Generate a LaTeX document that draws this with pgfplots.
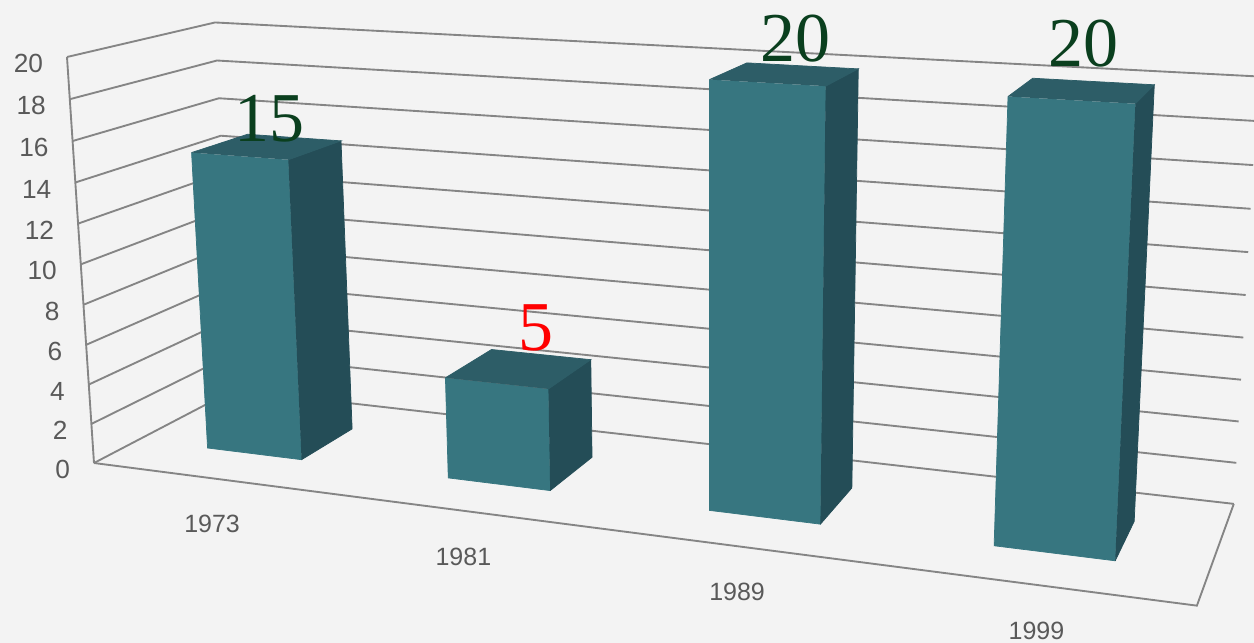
\documentclass[border=0pt]{standalone}
\usepackage{fontspec}
\setmainfont{Liberation Sans}
\newfontfamily\seriffont{Liberation Serif}
\usepackage{pgfplots}
\pgfplotsset{compat=1.18}
\definecolor{bgc}{HTML}{F3F3F3}
\definecolor{gridc}{HTML}{858585}
\definecolor{cfront}{HTML}{377680}
\definecolor{cside}{HTML}{244D57}
\definecolor{ctop}{HTML}{2D5D67}
\definecolor{ctick}{HTML}{595959}
\definecolor{cgreen}{HTML}{0A3F1E}
\pgfplotsset{
  table/proj/.style={
    /pgfplots/table/x expr={proju(\thisrow{X},\thisrow{D},\thisrow{Z})},
    /pgfplots/table/y expr={projv(\thisrow{X},\thisrow{D},\thisrow{Z})},
  },
  gridline/.style={draw=gridc, line width=0.75pt},
}
% one bar: #1 = category index, #2 = value
\newcommand\drawbar[2]{%
  \addplot[fill=cfront, draw=cfront, line width=0.3pt] table[proj, row sep=\\] {X D Z\\ #1-0.2 0.3 #2\\ #1-0.2 0.3 0\\ #1+0.2 0.3 0\\ #1+0.2 0.3 #2\\};
  \addplot[fill=cside, draw=cside, line width=0.3pt] table[proj, row sep=\\] {X D Z\\ #1+0.2 0.3 0\\ #1+0.2 0.7 0\\ #1+0.2 0.7 #2\\ #1+0.2 0.3 #2\\};
  \addplot[fill=ctop, draw=ctop, line width=0.3pt] table[proj, row sep=\\] {X D Z\\ #1+0.2 0.3 #2\\ #1+0.2 0.7 #2\\ #1-0.2 0.7 #2\\ #1-0.2 0.3 #2\\};
}
\begin{document}
\begin{tikzpicture}
\begin{axis}[
  width=501.6pt, height=257.2pt, scale only axis,
  xmin=0, xmax=1254, ymin=0, ymax=643, y dir=reverse,
  axis lines=none, xtick=\empty, ytick=\empty,
  axis background/.style={fill=bgc},
  clip=true,
  declare function={
    projw(\xa,\xb,\xc)=1-0.040175*(\xa+0.5)+0.1087*\xb-0.0021*\xc;
    proju(\xa,\xb,\xc)=(94+227.63*(\xa+0.5)+165.22*\xb-1.491*\xc)/projw(\xa,\xb,\xc);
    projv(\xa,\xb,\xc)=(463+11.329*(\xa+0.5)-30.653*\xb-20.42*\xc)/projw(\xa,\xb,\xc);
  },
]
% side wall and back wall gridlines
\pgfplotsinvokeforeach{0,2,4,6,8,10,12,14,16,18,20}{
  \addplot[gridline] table[proj, row sep=\\] {X D Z\\ -0.5 0 #1\\ -0.5 1 #1\\ 3.5 1 #1\\};
}
% front edge of side wall
\addplot[gridline] table[proj, row sep=\\] {X D Z\\ -0.5 0 0\\ -0.5 0 20\\};
% floor
\addplot[gridline] table[proj, row sep=\\] {X D Z\\ -0.5 0 0\\ 3.5 0 0\\ 3.5 1 0\\};
% bars
\drawbar{0}{15}
\drawbar{1}{5}
\drawbar{2}{20}
\drawbar{3}{20}
% value axis labels
\addplot[draw=none, point meta=explicit symbolic, nodes near coords,
  every node near coord/.append style={font=\fontsize{10.5}{12}\selectfont, text=ctick, anchor=east, inner sep=0pt, xshift=-9.4pt, yshift=-2.6pt}]
  table[proj, meta=L, row sep=\\] {X D Z L\\ -0.5 0 0 0\\ -0.5 0 2 2\\ -0.5 0 4 4\\ -0.5 0 6 6\\ -0.5 0 8 8\\ -0.5 0 10 10\\ -0.5 0 12 12\\ -0.5 0 14 14\\ -0.5 0 16 16\\ -0.5 0 18 18\\ -0.5 0 20 20\\};
% category labels
\addplot[draw=none, point meta=explicit symbolic, nodes near coords,
  every node near coord/.append style={font=\fontsize{10}{12}\selectfont, text=ctick, anchor=center, inner sep=0pt, yshift=-18.4pt}]
  table[proj, meta=L, row sep=\\] {X D Z L\\ 0 0 0 1973\\ 1 0 0 1981\\ 2 0 0 1989\\ 3 0 0 1999\\};
% value labels
\addplot[draw=none, nodes near coords={15},
  every node near coord/.append style={font=\seriffont\fontsize{28}{30}\selectfont, text=cgreen, anchor=south, inner sep=0pt, xshift=1pt, yshift=1.4pt}]
  table[proj, row sep=\\] {X D Z\\ 0 0.5 15\\};
\addplot[draw=none, nodes near coords={5},
  every node near coord/.append style={font=\seriffont\fontsize{28}{30}\selectfont, text=red, anchor=south, inner sep=0pt, xshift=6.8pt, yshift=6.6pt}]
  table[proj, row sep=\\] {X D Z\\ 1 0.5 5\\};
\addplot[draw=none, nodes near coords={20},
  every node near coord/.append style={font=\seriffont\fontsize{28}{30}\selectfont, text=cgreen, anchor=south, inner sep=0pt, xshift=4pt, yshift=4.4pt}]
  table[proj, row sep=\\] {X D Z\\ 2 0.5 20\\};
\addplot[draw=none, nodes near coords={20},
  every node near coord/.append style={font=\seriffont\fontsize{28}{30}\selectfont, text=cgreen, anchor=south, inner sep=0pt, xshift=0.4pt, yshift=9pt}]
  table[proj, row sep=\\] {X D Z\\ 3 0.5 20\\};
\end{axis}
\end{tikzpicture}
\end{document}
